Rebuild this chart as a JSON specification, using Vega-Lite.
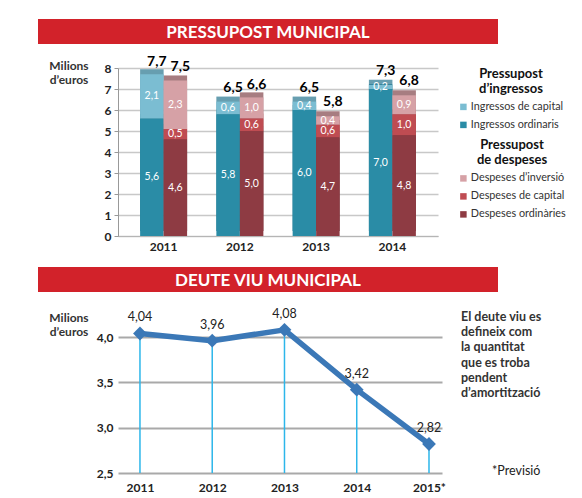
{
  "$schema": "https://vega.github.io/schema/vega-lite/v6.json",
  "padding": {"left": 38, "top": 19, "right": 0, "bottom": 0},
  "background": "white",
  "bounds": "flush",
  "align": "each",
  "columns": 3,
  "spacing": {"row": 24, "column": 0},
  "resolve": {"scale": {"color": "independent", "fill": "independent"}, "legend": {"color": "independent", "fill": "independent"}},
  "config": {
    "font": "Lato",
    "locale": {"number": {"decimal": ",", "thousands": ".", "grouping": [3], "currency": ["", " €"]}},
    "view": {"stroke": null},
    "legend": {
      "titleFontSize": 13, "titleFontWeight": "bold", "titleColor": "#111", "titleLineHeight": 14.5,
      "titleAlign": "center", "titleAnchor": "middle", "titlePadding": 6,
      "labelFontSize": 10.8, "labelColor": "#333", "labelOffset": 2, "symbolType": "square", "symbolSize": 42,
      "symbolStrokeWidth": 0, "rowPadding": 6, "offset": 20, "padding": 0,
      "layout": {"margin": 9}
    }
  },
  "datasets": {
    "buit": [{}],
    "pressupost": [
      {"year": "2011", "pressupost": "Ingressos", "categoria": "Ingressos ordinaris", "nivell": 1, "valor": 5.6},
      {"year": "2011", "pressupost": "Ingressos", "categoria": "Ingressos de capital", "nivell": 2, "valor": 2.1},
      {"year": "2012", "pressupost": "Ingressos", "categoria": "Ingressos ordinaris", "nivell": 1, "valor": 5.8},
      {"year": "2012", "pressupost": "Ingressos", "categoria": "Ingressos de capital", "nivell": 2, "valor": 0.6},
      {"year": "2013", "pressupost": "Ingressos", "categoria": "Ingressos ordinaris", "nivell": 1, "valor": 6.0},
      {"year": "2013", "pressupost": "Ingressos", "categoria": "Ingressos de capital", "nivell": 2, "valor": 0.4},
      {"year": "2014", "pressupost": "Ingressos", "categoria": "Ingressos ordinaris", "nivell": 1, "valor": 7.0},
      {"year": "2014", "pressupost": "Ingressos", "categoria": "Ingressos de capital", "nivell": 2, "valor": 0.2},
      {"year": "2011", "pressupost": "Despeses", "categoria": "Despeses ordinàries", "nivell": 1, "valor": 4.6},
      {"year": "2011", "pressupost": "Despeses", "categoria": "Despeses de capital", "nivell": 2, "valor": 0.5},
      {"year": "2011", "pressupost": "Despeses", "categoria": "Despeses d’inversió", "nivell": 3, "valor": 2.3},
      {"year": "2012", "pressupost": "Despeses", "categoria": "Despeses ordinàries", "nivell": 1, "valor": 5.0},
      {"year": "2012", "pressupost": "Despeses", "categoria": "Despeses de capital", "nivell": 2, "valor": 0.6},
      {"year": "2012", "pressupost": "Despeses", "categoria": "Despeses d’inversió", "nivell": 3, "valor": 1.0},
      {"year": "2013", "pressupost": "Despeses", "categoria": "Despeses ordinàries", "nivell": 1, "valor": 4.7},
      {"year": "2013", "pressupost": "Despeses", "categoria": "Despeses de capital", "nivell": 2, "valor": 0.6},
      {"year": "2013", "pressupost": "Despeses", "categoria": "Despeses d’inversió", "nivell": 3, "valor": 0.4},
      {"year": "2014", "pressupost": "Despeses", "categoria": "Despeses ordinàries", "nivell": 1, "valor": 4.8},
      {"year": "2014", "pressupost": "Despeses", "categoria": "Despeses de capital", "nivell": 2, "valor": 1.0},
      {"year": "2014", "pressupost": "Despeses", "categoria": "Despeses d’inversió", "nivell": 3, "valor": 0.9}
    ],
    "totals": [
      {"year": "2011", "pressupost": "Ingressos", "total": 7.7},
      {"year": "2011", "pressupost": "Despeses", "total": 7.5},
      {"year": "2012", "pressupost": "Ingressos", "total": 6.5},
      {"year": "2012", "pressupost": "Despeses", "total": 6.6},
      {"year": "2013", "pressupost": "Ingressos", "total": 6.5},
      {"year": "2013", "pressupost": "Despeses", "total": 5.8},
      {"year": "2014", "pressupost": "Ingressos", "total": 7.3},
      {"year": "2014", "pressupost": "Despeses", "total": 6.8}
    ],
    "deute": [
      {"year": 2011, "valor": 4.04},
      {"year": 2012, "valor": 3.96},
      {"year": 2013, "valor": 4.08},
      {"year": 2014, "valor": 3.42},
      {"year": 2015, "valor": 2.82}
    ]
  },
  "concat": [
    {"width": 80, "height": 25, "view": {"fill": "#d2222a", "stroke": null}, "data": {"name": "buit"}, "mark": "text", "encoding": {"text": {"value": ""}}},
    {
      "width": 324, "height": 25,
      "view": {"fill": "#d2222a", "stroke": null},
      "data": {"values": [{"titol": "PRESSUPOST MUNICIPAL"}]},
      "mark": {"type": "text", "color": "white", "fontSize": 17, "fontWeight": "bold", "dy": 1, "dx": -12},
      "encoding": {"text": {"field": "titol", "type": "nominal"}}
    },
    {"width": 56, "height": 25, "view": {"fill": "#d2222a", "stroke": null}, "data": {"name": "buit"}, "mark": "text", "encoding": {"text": {"value": ""}}},
    {
      "width": 80, "height": 10,
      "data": {"values": [{"etiqueta": "Milions\nd’euros"}]},
      "mark": {"type": "text", "lineBreak": "\n", "lineHeight": 13.5, "fontSize": 12, "fontWeight": "bold", "color": "#333", "dx": -9, "dy": -7},
      "encoding": {"text": {"field": "etiqueta", "type": "nominal"}}
    },
    {
      "width": 320, "height": 168,
      "data": {"name": "pressupost"},
      "encoding": {
        "x": {"field": "year", "type": "nominal",
          "scale": {"paddingInner": 0.384, "paddingOuter": 0.29},
          "axis": {"title": null, "labelAngle": 0, "labelFontWeight": "bold", "labelFontSize": 12, "labelColor": "#222", "ticks": false, "domainColor": "#b5b5b5", "labelPadding": 5}},
        "xOffset": {"field": "pressupost", "type": "nominal", "sort": ["Ingressos", "Despeses"], "scale": {"paddingInner": 0, "paddingOuter": 0}},
        "y": {"field": "valor", "type": "quantitative", "stack": "zero",
          "scale": {"domain": [0, 8], "nice": false},
          "axis": {"title": null, "values": [0, 1, 2, 3, 4, 5, 6, 7, 8], "format": "d", "gridColor": "#c8c8c8", "gridWidth": 1.5, "domainColor": "#999", "tickColor": "#999", "tickSize": 4, "labelFontWeight": "bold", "labelFontSize": 12, "labelColor": "#222", "labelPadding": 3}},
        "order": {"field": "nivell", "type": "quantitative"}
      },
      "layer": [
        {
          "transform": [{"filter": "datum.pressupost == 'Ingressos'"}],
          "mark": {"type": "bar", "xOffset": 5, "yOffset": -5},
          "encoding": {
            "color": {"field": "categoria", "type": "nominal",
              "scale": {"domain": ["Ingressos de capital", "Ingressos ordinaris"], "range": ["#7bbdd2", "#2a8ca6"]},
              "legend": {"title": ["Pressupost", "d’ingressos"]}}
          }
        },
        {
          "transform": [{"filter": "datum.pressupost == 'Ingressos'"}],
          "mark": {"type": "bar", "xOffset": 5, "yOffset": -5, "color": "#000", "opacity": 0.16},
          "encoding": {"detail": {"field": "categoria", "type": "nominal"}}
        },
        {
          "transform": [{"filter": "datum.pressupost == 'Despeses'"}],
          "mark": {"type": "bar", "xOffset": 5, "yOffset": -5},
          "encoding": {
            "fill": {"field": "categoria", "type": "nominal",
              "scale": {"domain": ["Despeses d’inversió", "Despeses de capital", "Despeses ordinàries"], "range": ["#d6a1a6", "#bf4c52", "#8e3b43"]},
              "legend": {"title": ["Pressupost", "de despeses"], "titleLineHeight": 15}}
          }
        },
        {
          "transform": [{"filter": "datum.pressupost == 'Despeses'"}],
          "mark": {"type": "bar", "xOffset": 5, "yOffset": -5, "color": "#000", "opacity": 0.22},
          "encoding": {"detail": {"field": "categoria", "type": "nominal"}}
        },
        {
          "transform": [{"filter": "datum.pressupost == 'Ingressos'"}],
          "mark": {"type": "bar"},
          "encoding": {"color": {"field": "categoria", "type": "nominal"}}
        },
        {
          "transform": [{"filter": "datum.pressupost == 'Despeses'"}],
          "mark": {"type": "bar"},
          "encoding": {"fill": {"field": "categoria", "type": "nominal"}}
        },
        {
          "transform": [{"filter": "datum.pressupost == 'Ingressos'"}],
          "mark": {"type": "text", "color": "white", "fontSize": 10.5},
          "encoding": {
            "y": {"field": "valor", "type": "quantitative", "stack": "zero", "bandPosition": 0.5},
            "detail": {"field": "categoria", "type": "nominal"},
            "text": {"field": "valor", "type": "quantitative", "format": ".1f"}
          }
        },
        {
          "transform": [{"filter": "datum.pressupost == 'Despeses'"}],
          "mark": {"type": "text", "color": "white", "fontSize": 10.5},
          "encoding": {
            "y": {"field": "valor", "type": "quantitative", "stack": "zero", "bandPosition": 0.5},
            "detail": {"field": "categoria", "type": "nominal"},
            "text": {"field": "valor", "type": "quantitative", "format": ".1f"}
          }
        },
        {
          "data": {"name": "totals"},
          "mark": {"type": "text", "fontSize": 14, "fontWeight": "bold", "color": "#000", "baseline": "bottom", "dy": -5, "dx": 5},
          "encoding": {
            "y": {"field": "total", "type": "quantitative"},
            "order": null,
            "text": {"field": "total", "type": "quantitative", "format": ".1f"}
          }
        }
      ]
    },
    {"width": 1, "height": 175, "data": {"name": "buit"}, "mark": "text", "encoding": {"text": {"value": ""}}},
    {"width": 80, "height": 25, "view": {"fill": "#d2222a", "stroke": null}, "data": {"name": "buit"}, "mark": "text", "encoding": {"text": {"value": ""}}},
    {
      "width": 324, "height": 25,
      "view": {"fill": "#d2222a", "stroke": null},
      "data": {"values": [{"titol": "DEUTE VIU MUNICIPAL"}]},
      "mark": {"type": "text", "color": "white", "fontSize": 17, "fontWeight": "bold", "dy": 1, "dx": -12},
      "encoding": {"text": {"field": "titol", "type": "nominal"}}
    },
    {"width": 56, "height": 25, "view": {"fill": "#d2222a", "stroke": null}, "data": {"name": "buit"}, "mark": "text", "encoding": {"text": {"value": ""}}},
    {
      "width": 80, "height": 12,
      "data": {"values": [{"etiqueta": "Milions\nd’euros"}]},
      "mark": {"type": "text", "lineBreak": "\n", "lineHeight": 14, "fontSize": 12, "fontWeight": "bold", "color": "#333", "dx": -9, "dy": -4},
      "encoding": {"text": {"field": "etiqueta", "type": "nominal"}}
    },
    {
      "width": 324, "height": 157,
      "data": {"name": "deute"},
      "encoding": {
        "x": {"field": "year", "type": "quantitative",
          "scale": {"domain": [2010.696, 2015.18], "nice": false, "zero": false},
          "axis": {"title": null, "values": [2011, 2012, 2013, 2014, 2015], "format": "d", "labelExpr": "datum.value == 2015 ? '2015*' : datum.label", "grid": false, "ticks": false, "domain": false, "labelFontWeight": "bold", "labelFontSize": 12, "labelColor": "#222", "labelPadding": 9}},
        "y": {"field": "valor", "type": "quantitative",
          "scale": {"domain": [2.5, 4.233], "nice": false, "zero": false},
          "axis": {"title": null, "values": [2.5, 3, 3.5, 4], "format": ".1f", "gridColor": "#a9a9a9", "gridWidth": 2, "domain": false, "ticks": false, "labelFontWeight": "bold", "labelFontSize": 12, "labelColor": "#222", "labelPadding": 5}}
      },
      "layer": [
        {"mark": {"type": "rule", "color": "#2cb6ea", "strokeWidth": 1.5}, "encoding": {"y2": {"datum": 2.5}}},
        {"mark": {"type": "line", "color": "#3b78b7", "strokeWidth": 5.5, "strokeJoin": "round"}, "encoding": {}},
        {"mark": {"type": "point", "shape": "diamond", "filled": true, "opacity": 1, "color": "#3b78b7", "size": 190}, "encoding": {}},
        {"mark": {"type": "text", "dy": -16, "fontSize": 12.5, "color": "#222"}, "encoding": {"text": {"field": "valor", "type": "quantitative", "format": ".2f"}}}
      ]
    },
    {
      "width": 38, "height": 2,
      "data": {"values": [{"nota": "El deute viu es\ndefineix com\nla quantitat\nque es troba\npendent\nd’amortització"}]},
      "title": {"text": "*Previsió", "orient": "bottom", "anchor": "start", "dx": 50, "offset": 65, "fontSize": 12.5, "fontWeight": "normal", "color": "#222"},
      "mark": {"type": "text", "align": "left", "baseline": "middle", "lineBreak": "\n", "lineHeight": 15.2, "fontSize": 12.5, "fontWeight": "bold", "color": "#333"},
      "encoding": {"text": {"field": "nota", "type": "nominal"}}
    }
  ]
}
